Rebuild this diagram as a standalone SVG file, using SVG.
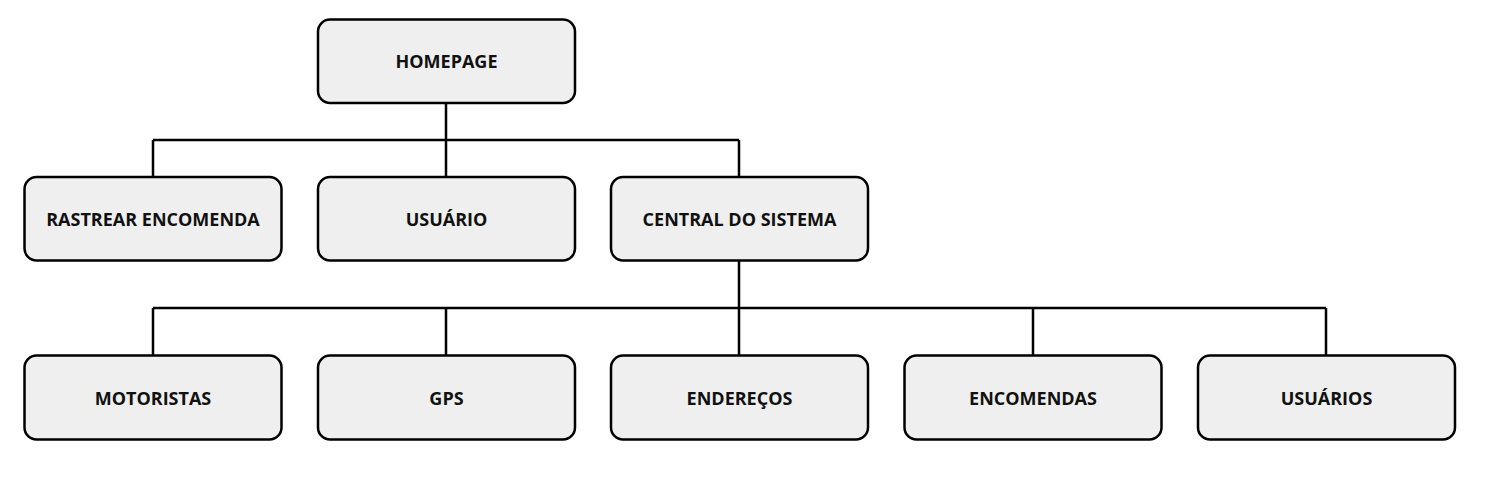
<svg xmlns="http://www.w3.org/2000/svg" width="1494" height="500" viewBox="0 0 1494 500">
<style>
.box{fill:#efefef;stroke:#000;stroke-width:2.5}
.lbl{font-family:"Open Sans","Noto Sans",sans-serif;font-weight:bold;font-size:18px;fill:#111;text-anchor:middle;dominant-baseline:central}
.con{fill:none;stroke:#000;stroke-width:2.5}
</style>
<rect width="1494" height="500" fill="#fff"/>
<g id="connectors">
<path class="con" d="M446 103V140M153 140H739M153 140V177M446 140V177M739 140V177"/>
<path class="con" d="M739 260V308M153 308H1326M153 308V355M446 308V355M739 308V355M1033 308V355M1326 308V355"/>
</g>
<g id="homepage"><rect class="box" x="318" y="19.5" width="257" height="83.5" rx="12"/><text class="lbl" x="446.5" y="61">HOMEPAGE</text></g>
<g id="rastrear"><rect class="box" x="24.5" y="177" width="257" height="83.5" rx="12"/><text class="lbl" x="153" y="218.5">RASTREAR ENCOMENDA</text></g>
<g id="usuario"><rect class="box" x="318" y="177" width="257" height="83.5" rx="12"/><text class="lbl" x="446.5" y="218.5">USUÁRIO</text></g>
<g id="central"><rect class="box" x="611" y="177" width="257" height="83.5" rx="12"/><text class="lbl" x="739.5" y="218.5">CENTRAL DO SISTEMA</text></g>
<g id="motoristas"><rect class="box" x="24.5" y="355.5" width="257" height="84" rx="12"/><text class="lbl" x="153" y="397.5">MOTORISTAS</text></g>
<g id="gps"><rect class="box" x="318" y="355.5" width="257" height="84" rx="12"/><text class="lbl" x="446.5" y="397.5">GPS</text></g>
<g id="enderecos"><rect class="box" x="611" y="355.5" width="257" height="84" rx="12"/><text class="lbl" x="739.5" y="397.5">ENDEREÇOS</text></g>
<g id="encomendas"><rect class="box" x="904.5" y="355.5" width="257" height="84" rx="12"/><text class="lbl" x="1033" y="397.5">ENCOMENDAS</text></g>
<g id="usuarios"><rect class="box" x="1198" y="355.5" width="257" height="84" rx="12"/><text class="lbl" x="1326.5" y="397.5">USUÁRIOS</text></g>
</svg>
